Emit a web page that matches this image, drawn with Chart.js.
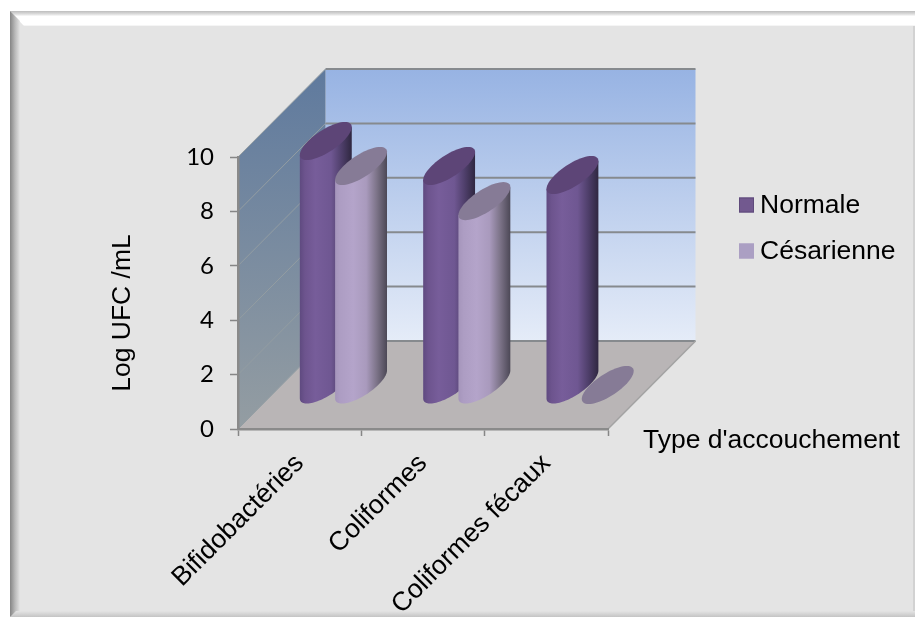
<!DOCTYPE html>
<html>
<head>
<meta charset="utf-8">
<style>
  html, body { margin: 0; padding: 0; background: #fff; }
  #wrap { width: 915px; height: 617px; }
</style>
<script src="https://cdn.jsdelivr.net/npm/chart.js@4/dist/chart.umd.min.js"></script>
</head>
<body>
<div id="wrap"><canvas id="chart" width="915" height="617"></canvas></div>
<script>
const categories = ["Bifidobactéries", "Coliformes", "Coliformes fécaux"];
const normale = [8.97, 8.05, 7.72];
const cesarienne = [8.05, 6.76, 0];
const yTicks = [0, 2, 4, 6, 8, 10];

const yTitle = "Log UFC /mL";
const xTitle = "Type d'accouchement";

const FONT = '"Liberation Sans", Arial, sans-serif';
const FONT_SIZE = 26.5;

// how far the back wall is pushed away from the front plane
const depthX = 87.5;
const depthY = 88;
// share of the depth taken by a cylinder
const cylDepth = 0.435;

// shading per series: body gradient stops and top cap colour
const shades = [
  {
    body: [[0, "#5f4a80"], [0.1, "#6d548e"], [0.3, "#775d9a"], [0.6, "#6f5792"], [0.8, "#4f3f6b"], [1, "#2f2740"]],
    cap: "#5d4577",
  },
  {
    body: [[0, "#a595bb"], [0.1, "#ad9dc3"], [0.35, "#b4a4ca"], [0.6, "#a99abd"], [0.8, "#7d7489"], [1, "#4c4856"]],
    cap: "#867b96",
  },
];

// bevelled frame around the whole figure
function drawFrame(ctx) {
  const l = 10, t = 11, r = 915, b = 617, bw = 14;
  ctx.fillStyle = "#e4e4e4";
  ctx.fillRect(l, t, r - l, b - t);

  let g = ctx.createLinearGradient(0, t, 0, t + bw + 1);
  g.addColorStop(0, "#bdbdbd");
  g.addColorStop(0.2, "#dcdcdc");
  g.addColorStop(0.35, "#ffffff");
  g.addColorStop(0.9, "#ffffff");
  g.addColorStop(1, "#f0f0f0");
  ctx.fillStyle = g;
  ctx.beginPath();
  ctx.moveTo(l, t);
  ctx.lineTo(r, t);
  ctx.lineTo(r, t + bw + 1);
  ctx.lineTo(l + bw, t + bw + 1);
  ctx.closePath();
  ctx.fill();

  g = ctx.createLinearGradient(l, 0, l + 10, 0);
  g.addColorStop(0, "#858585");
  g.addColorStop(0.5, "#b9b9b9");
  g.addColorStop(1, "#e4e4e4");
  ctx.fillStyle = g;
  ctx.beginPath();
  ctx.moveTo(l, t);
  ctx.lineTo(l + 10, t + 10);
  ctx.lineTo(l + 10, b - 5);
  ctx.lineTo(l, b);
  ctx.closePath();
  ctx.fill();

  g = ctx.createLinearGradient(0, b - 6, 0, b);
  g.addColorStop(0, "#e4e4e4");
  g.addColorStop(1, "#c4c4c4");
  ctx.fillStyle = g;
  ctx.beginPath();
  ctx.moveTo(l + 6, b - 6);
  ctx.lineTo(r, b - 6);
  ctx.lineTo(r, b);
  ctx.lineTo(l, b);
  ctx.closePath();
  ctx.fill();

  ctx.fillStyle = "#d2d2d2";
  ctx.fillRect(r - 2, t + 15, 2, b - t - 21);
}

// back wall, side wall, floor and the gridlines running over them
function drawBox(chart) {
  const ctx = chart.ctx;
  const { left, right } = chart.chartArea;
  const y = chart.scales.y;
  const y0 = y.getPixelForValue(yTicks[0]);
  const yTop = y.getPixelForValue(yTicks[yTicks.length - 1]);

  ctx.save();

  let g = ctx.createLinearGradient(0, yTop - depthY, 0, y0 - depthY);
  g.addColorStop(0, "#97b3e3");
  g.addColorStop(1, "#e5ecf8");
  ctx.fillStyle = g;
  ctx.fillRect(left + depthX, yTop - depthY, right - left, y0 - yTop);

  g = ctx.createLinearGradient(0, yTop - depthY, 0, y0);
  g.addColorStop(0, "#5f7a9e");
  g.addColorStop(1, "#949da2");
  ctx.fillStyle = g;
  ctx.beginPath();
  ctx.moveTo(left, yTop);
  ctx.lineTo(left + depthX, yTop - depthY);
  ctx.lineTo(left + depthX, y0 - depthY);
  ctx.lineTo(left, y0);
  ctx.closePath();
  ctx.fill();

  ctx.fillStyle = "#b9b5b6";
  ctx.beginPath();
  ctx.moveTo(left, y0);
  ctx.lineTo(right, y0);
  ctx.lineTo(right + depthX, y0 - depthY);
  ctx.lineTo(left + depthX, y0 - depthY);
  ctx.closePath();
  ctx.fill();

  yTicks.forEach((v) => {
    const py = y.getPixelForValue(v);
    ctx.strokeStyle = "#939da2";
    ctx.lineWidth = 1;
    ctx.beginPath();
    ctx.moveTo(left, py);
    ctx.lineTo(left + depthX, py - depthY);
    ctx.stroke();

    ctx.strokeStyle = "#868a8e";
    ctx.lineWidth = 2;
    ctx.beginPath();
    ctx.moveTo(left + depthX, py - depthY);
    ctx.lineTo(right + depthX, py - depthY);
    ctx.stroke();
  });

  // right edge of the floor
  ctx.strokeStyle = "#a3a3a3";
  ctx.lineWidth = 1.5;
  ctx.beginPath();
  ctx.moveTo(right, y0);
  ctx.lineTo(right + depthX, y0 - depthY);
  ctx.stroke();

  ctx.restore();
}

function drawCylinder(ctx, bar, shade) {
  const a = bar.width / 2;
  const d = (depthX * cylDepth) / 2;
  const cx = bar.x + depthX / 2;
  const topY = bar.y - depthY / 2;
  const baseY = bar.base - depthY / 2;
  const t0 = Math.atan2(d, a);
  const r = Math.hypot(a, d);
  const px = (t) => cx + a * Math.cos(t) + d * Math.sin(t);
  const py = (t) => -d * Math.sin(t);

  if (baseY - topY > 0.5) {
    // side surface: down the left tangent, around the base, back up the right tangent
    ctx.beginPath();
    ctx.moveTo(px(t0 + Math.PI), topY + py(t0 + Math.PI));
    for (let i = 0; i <= 48; i++) {
      const t = t0 + Math.PI + (i / 48) * Math.PI;
      ctx.lineTo(px(t), baseY + py(t));
    }
    ctx.lineTo(px(t0), topY + py(t0));
    ctx.closePath();
    const g = ctx.createLinearGradient(cx - r, 0, cx + r, 0);
    shade.body.forEach((s) => g.addColorStop(s[0], s[1]));
    ctx.fillStyle = g;
    ctx.fill();
  }

  ctx.beginPath();
  for (let i = 0; i <= 64; i++) {
    const t = (i / 64) * Math.PI * 2;
    ctx.lineTo(px(t), topY + py(t));
  }
  ctx.closePath();
  ctx.fillStyle = shade.cap;
  ctx.fill();
}

function drawLegend(chart) {
  const ctx = chart.ctx;
  const rows = [205, 251];
  ctx.font = FONT_SIZE + "px " + FONT;
  ctx.textBaseline = "middle";
  ctx.textAlign = "left";
  chart.data.datasets.forEach((ds, i) => {
    ctx.fillStyle = ds.backgroundColor;
    ctx.fillRect(739, rows[i] - 7.5, 15, 15);
    ctx.strokeStyle = ds.borderColor;
    ctx.lineWidth = 1;
    ctx.strokeRect(739.5, rows[i] - 7, 14, 14);
    ctx.fillStyle = "#000";
    ctx.fillText(ds.label, 760, rows[i] + 1);
  });
}

const scenePlugin = {
  id: "scene",
  beforeDraw(chart) {
    drawFrame(chart.ctx);
    drawBox(chart);
  },
  // the flat bars give way to cylinders standing on the floor, left series first
  beforeDatasetsDraw(chart) {
    chart.data.datasets.forEach((ds, i) => {
      chart.getDatasetMeta(i).data.forEach((bar) => drawCylinder(chart.ctx, bar, shades[i]));
    });
  },
  beforeDatasetDraw() {
    return false;
  },
  afterDraw(chart) {
    const ctx = chart.ctx;
    ctx.save();
    drawLegend(chart);
    ctx.fillStyle = "#000";
    ctx.font = FONT_SIZE + "px " + FONT;
    ctx.textBaseline = "middle";
    ctx.textAlign = "left";
    ctx.fillText(xTitle, 643, 441);
    ctx.translate(123, 313);
    ctx.rotate(-Math.PI / 2);
    ctx.textAlign = "center";
    ctx.fillText(yTitle, 0, 0);
    ctx.restore();
  },
};

new Chart(document.getElementById("chart"), {
  type: "bar",
  data: {
    labels: categories,
    datasets: [
      { label: "Normale", data: normale, backgroundColor: "#72598f", borderColor: "#5f4a7b", borderWidth: 1 },
      { label: "Césarienne", data: cesarienne, backgroundColor: "#ab9fc3", borderColor: "#ab9fc3", borderWidth: 1 },
    ],
  },
  options: {
    responsive: false,
    animation: false,
    layout: { padding: { left: 178, top: 157, right: 307, bottom: 0 } },
    categoryPercentage: 0.572,
    barPercentage: 1,
    plugins: {
      tooltip: { enabled: false },
      legend: { display: false },
    },
    scales: {
      x: {
        grid: {
          drawOnChartArea: false,
          color: "#868686",
          tickColor: "#868686",
          tickLength: 7,
          tickWidth: 1.5,
        },
        border: { color: "#8a8a8a", width: 2.5 },
        ticks: {
          minRotation: 45,
          maxRotation: 45,
          autoSkip: false,
          color: "#000",
          padding: 12,
          font: { family: FONT, size: FONT_SIZE },
        },
        afterFit(scale) {
          scale.height = 188;
          scale.paddingLeft = 0;
          scale.paddingRight = 0;
        },
      },
      y: {
        min: 0,
        max: 10,
        grid: {
          drawOnChartArea: false,
          color: "#868686",
          tickColor: "#868686",
          tickLength: 8,
          tickWidth: 1.5,
        },
        border: { color: "#8a8a8a", width: 2.5 },
        ticks: {
          stepSize: 2,
          color: "#000",
          padding: 16,
          font: { family: "Lato, sans-serif", size: 24 },
        },
        afterFit(scale) {
          scale.width = 60;
          scale.paddingTop = 0;
          scale.paddingBottom = 0;
        },
      },
    },
  },
  plugins: [scenePlugin],
});
</script>
</body>
</html>
